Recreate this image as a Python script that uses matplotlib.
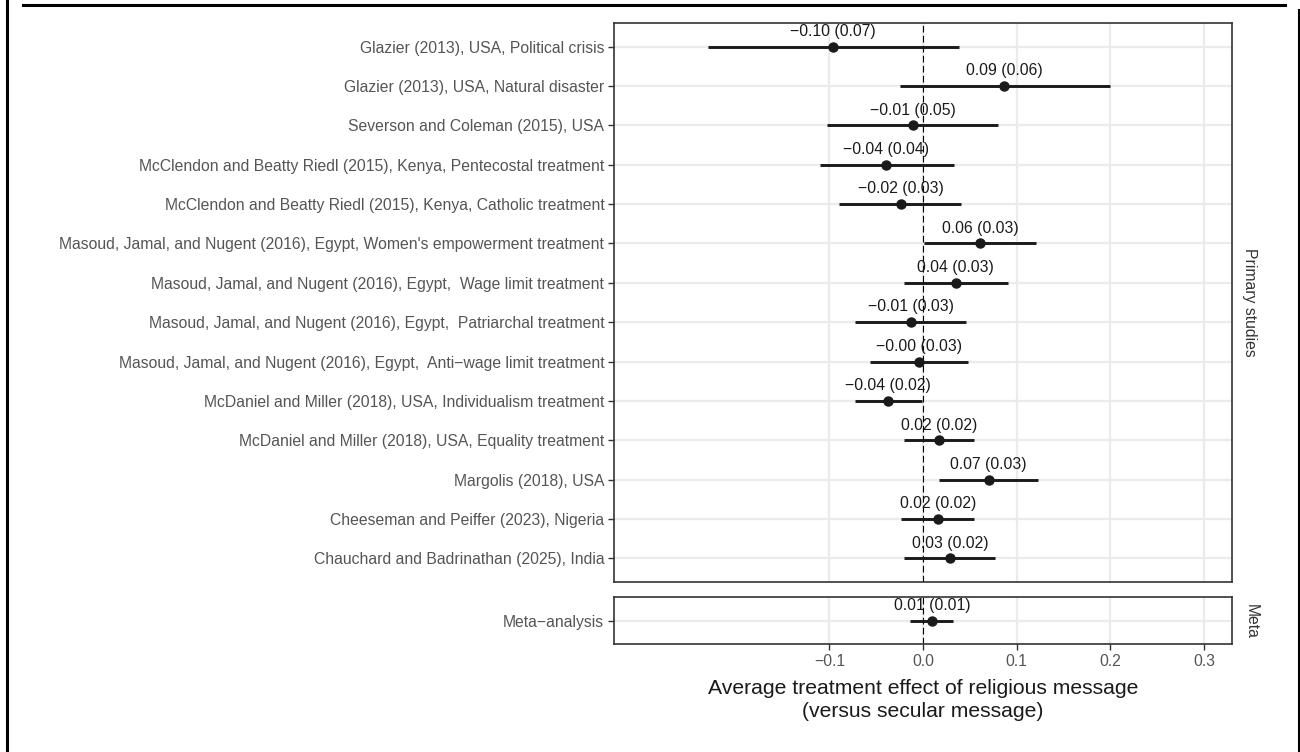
import matplotlib
matplotlib.use("Agg")
import matplotlib.pyplot as plt
from matplotlib.lines import Line2D

plt.rcParams['font.family'] = ['Liberation Sans', 'DejaVu Sans']

studies = [
    "Glazier (2013), USA, Political crisis",
    "Glazier (2013), USA, Natural disaster",
    "Severson and Coleman (2015), USA",
    "McClendon and Beatty Riedl (2015), Kenya, Pentecostal treatment",
    "McClendon and Beatty Riedl (2015), Kenya, Catholic treatment",
    "Masoud, Jamal, and Nugent (2016), Egypt, Women's empowerment treatment",
    "Masoud, Jamal, and Nugent (2016), Egypt,  Wage limit treatment",
    "Masoud, Jamal, and Nugent (2016), Egypt,  Patriarchal treatment",
    "Masoud, Jamal, and Nugent (2016), Egypt,  Anti\u2212wage limit treatment",
    "McDaniel and Miller (2018), USA, Individualism treatment",
    "McDaniel and Miller (2018), USA, Equality treatment",
    "Margolis (2018), USA",
    "Cheeseman and Peiffer (2023), Nigeria",
    "Chauchard and Badrinathan (2025), India",
]
est = [-0.096, 0.087, -0.011, -0.039, -0.024, 0.061, 0.035, -0.013, -0.004,
       -0.037, 0.017, 0.070, 0.016, 0.029]
se = [0.07, 0.06, 0.05, 0.04, 0.03, 0.03, 0.03, 0.03, 0.03, 0.02, 0.02, 0.03, 0.02, 0.02]
lower = [-0.230, -0.025, -0.102, -0.110, -0.090, 0.001, -0.020, -0.073, -0.057,
         -0.073, -0.020, 0.017, -0.023, -0.020]
upper = [0.038, 0.200, 0.080, 0.033, 0.041, 0.121, 0.091, 0.046, 0.048,
         -0.001, 0.054, 0.123, 0.054, 0.077]

meta_label = "Meta\u2212analysis"
meta_est = 0.010
meta_se = 0.01
meta_lower = -0.014
meta_upper = 0.032

xticks = [-0.1, 0.0, 0.1, 0.2, 0.3]
xticklabels = ["\u22120.1", "0.0", "0.1", "0.2", "0.3"]

W, H = 1300, 752
fig = plt.figure(figsize=(13, 7.52), dpi=100)

left, right = 614 / W, 1232 / W
ax1 = fig.add_axes([left, 1 - 582 / H, right - left, (582 - 23) / H])
ax2 = fig.add_axes([left, 1 - 644 / H, right - left, (644 - 597) / H])

grey_txt = '#555555'


def fmt(v):
    return f"{v:.2f}".replace("-", "\u2212")


def draw(ax, names, e, s, lo, hi):
    ys = list(range(1, len(names) + 1))
    for x in xticks:
        ax.axvline(x, color='#EBEBEB', lw=1.6, zorder=0)
    for y in ys:
        ax.axhline(y, color='#EBEBEB', lw=1.6, zorder=0)
    ax.axvline(0, color='black', lw=0.8, linestyle=(0, (6, 3)), zorder=1)
    ax.hlines(ys, lo, hi, color='#1A1A1A', lw=2.1, zorder=2)
    ax.plot(e, ys, 'o', color='#1A1A1A', ms=6.5, zorder=3)
    for xi, yi, si in zip(e, ys, s):
        ax.annotate(f"{fmt(xi)} ({si:.2f})", (xi, yi), xytext=(0, 11),
                    textcoords='offset points', ha='center', va='center',
                    fontsize=11.3, color='#1A1A1A', zorder=4)
    ax.set_xlim(-0.33, 0.33)
    ax.set_ylim(len(names) + 0.6, 0.4)
    ax.set_yticks(ys)
    ax.set_yticklabels(names)
    ax.set_xticks(xticks)
    for sp in ax.spines.values():
        sp.set_color('#333333')
        sp.set_linewidth(1.2)
    ax.tick_params(axis='both', color='#333333', width=1.0, length=4, pad=3,
                   labelsize=11.3, labelcolor=grey_txt)


draw(ax1, studies, est, se, lower, upper)
draw(ax2, [meta_label], [meta_est], [meta_se], [meta_lower], [meta_upper])
ax1.tick_params(axis='x', length=0, labelbottom=False)
ax2.set_xticklabels(xticklabels)

# facet strip labels
fig.text(1250 / W, 1 - 302 / H, "Primary studies", rotation=-90, ha='center', va='center',
         fontsize=11.3, color='#333333')
fig.text(1251 / W, 1 - 621 / H, "Meta", rotation=-90, ha='center', va='center',
         fontsize=11.3, color='#333333')

fig.text(923 / W, 1 - 700 / H,
         "Average treatment effect of religious message\n(versus secular message)",
         ha='center', va='center', fontsize=15.2, color='#1A1A1A', linespacing=1.3)

# outer frame lines
fig.add_artist(Line2D([23 / W, 1285 / W], [1 - 5 / H, 1 - 5 / H], transform=fig.transFigure,
                      color='black', lw=2.2))
fig.add_artist(Line2D([7 / W, 7 / W], [0, 1], transform=fig.transFigure, color='black', lw=2.2))
fig.add_artist(Line2D([1299 / W, 1299 / W], [0, 1 - 10 / H], transform=fig.transFigure,
                      color='black', lw=2.2))

fig.savefig("out.png", dpi=100)
